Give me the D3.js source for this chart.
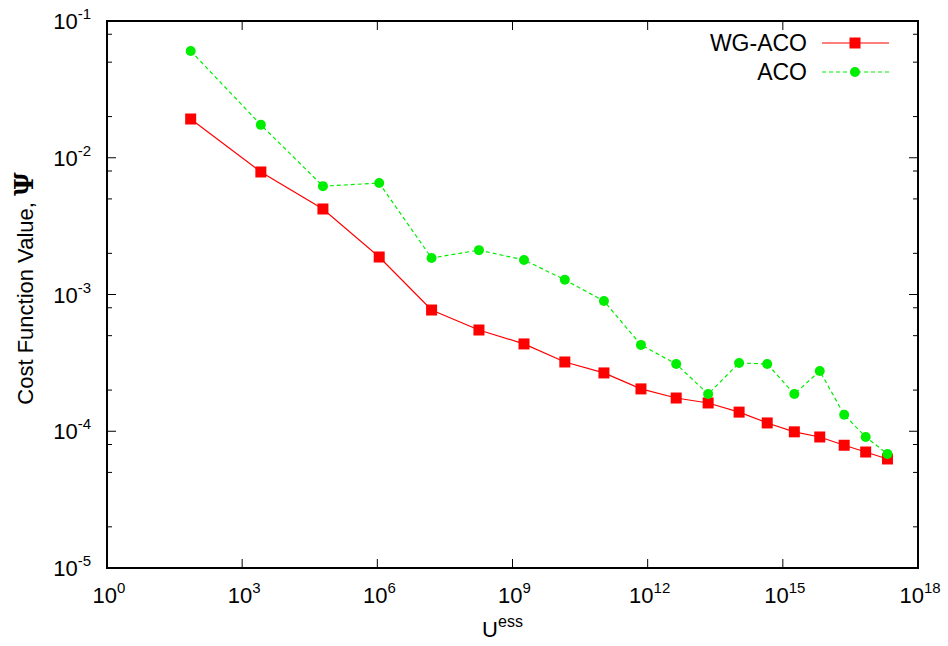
<!DOCTYPE html>
<html>
<head>
<meta charset="utf-8">
<script src="https://cdn.jsdelivr.net/npm/d3@7"></script>
<style>
  body { margin: 0; background: #fff; }
  svg text { font-family: "Liberation Sans", Arial, sans-serif; fill: #000; }
</style>
</head>
<body>
<svg width="948" height="646"></svg>
<script>
const svg    = d3.select("svg"),
      margin = {top: 21, right: 30, bottom: 78, left: 107},
      width  = 948 - margin.left - margin.right,
      height = 646 - margin.top - margin.bottom

// data
const uess   = [72, 2.6e3, 6.2e4, 1.1e6, 1.6e7, 1.8e8, 1.8e9, 1.45e10, 1.07e11, 7.1e11,
                4.3e12, 2.2e13, 1.07e14, 4.5e14, 1.8e15, 6.6e15, 2.3e16, 6.9e16, 2.1e17]
const wgaco  = [0.0192, 0.00787, 0.00422, 0.00188, 7.7e-4, 5.5e-4, 4.35e-4, 3.21e-4, 2.67e-4, 2.04e-4,
                1.75e-4, 1.61e-4, 1.38e-4, 1.15e-4, 9.9e-5, 9.08e-5, 7.9e-5, 7.05e-5, 6.27e-5]
const aco    = [0.0604, 0.0174, 0.0062, 0.00653, 0.00185, 0.00211, 0.00179, 0.00128, 8.96e-4, 4.28e-4,
                3.1e-4, 1.87e-4, 3.16e-4, 3.1e-4, 1.87e-4, 2.76e-4, 1.32e-4, 9.08e-5, 6.82e-5]
const xExps  = [0, 3, 6, 9, 12, 15, 18]
const yExps  = [-5, -4, -3, -2, -1]
const yMinor = [2, 5, 8]

const x = d3.scaleLog().domain([1, 1e18]).range([0, width]),
      y = d3.scaleLog().domain([1e-5, 1e-1]).range([height, 0])

const g = svg.append("g").attr("transform", `translate(${margin.left},${margin.top})`)

// ticks (inward, mirrored on all sides)
const major = 9, minor = 5
xExps.forEach(e => {
  const px = x(Math.pow(10, e))
  g.append("line").attr("x1", px).attr("x2", px).attr("y1", height).attr("y2", height - major)
    .style("stroke", "#000")
  g.append("line").attr("x1", px).attr("x2", px).attr("y1", 0).attr("y2", major)
    .style("stroke", "#000")
  const t = g.append("text").attr("x", px + 2).attr("y", height + 35)
    .style("font-size", "22px").style("text-anchor", "middle")
  t.append("tspan").text("10")
  t.append("tspan").attr("dy", -10).style("font-size", "15px").text(e)
})

yExps.forEach(e => {
  const py = y(Math.pow(10, e))
  g.append("line").attr("x1", 0).attr("x2", major).attr("y1", py).attr("y2", py).style("stroke", "#000")
  g.append("line").attr("x1", width).attr("x2", width - major).attr("y1", py).attr("y2", py).style("stroke", "#000")
  const t = g.append("text").attr("x", -16).attr("y", py + 8)
    .style("font-size", "22px").style("text-anchor", "end")
  t.append("tspan").text("10")
  t.append("tspan").attr("dy", -10).style("font-size", "15px").text(e)
  if (e < -1) {
    yMinor.forEach(m => {
      const my = y(m * Math.pow(10, e))
      g.append("line").attr("x1", 0).attr("x2", minor).attr("y1", my).attr("y2", my).style("stroke", "#000")
      g.append("line").attr("x1", width).attr("x2", width - minor).attr("y1", my).attr("y2", my).style("stroke", "#000")
    })
  }
})

// frame
g.append("rect").attr("width", width).attr("height", height)
  .style("fill", "none").style("stroke", "#000").style("stroke-width", 2)

// axis titles
const xt = g.append("text").attr("x", width / 2 - 10).attr("y", height + 69)
  .style("font-size", "22px").style("text-anchor", "middle")
xt.append("tspan").text("U")
xt.append("tspan").attr("dy", -10).style("font-size", "16px").text("ess")

const yt = svg.append("text")
  .attr("transform", `translate(33,${margin.top + height / 2 - 6}) rotate(-90)`)
  .style("font-size", "22px").style("text-anchor", "middle")
yt.append("tspan").text("Cost Function Value, ")
yt.append("tspan").style("font-family", "DejaVu Serif, serif").style("font-size", "26px")
  .style("font-weight", "bold").text("Ψ")

// series
const series = [
  {name: "WG-ACO", vals: wgaco, color: "#ff0000", dash: null, shape: "square"},
  {name: "ACO",    vals: aco,   color: "#00ee00", dash: "4,3", shape: "circle"}
]

const line = d3.line().x(d => x(d[0])).y(d => y(d[1]))

series.forEach((s, i) => {
  const pts = uess.map((u, j) => [u, s.vals[j]])
  g.append("path").datum(pts).attr("d", line)
    .style("fill", "none").style("stroke", s.color).style("stroke-width", 1.2)
    .style("stroke-dasharray", s.dash)
  drawMarkers(g, pts.map(p => [x(p[0]), y(p[1])]), s)

  // legend
  const ly = 22 + 29 * i
  g.append("text").attr("x", 700).attr("y", ly + 8)
    .style("font-size", "23px").style("text-anchor", "end").text(s.name)
  g.append("line").attr("x1", 715).attr("x2", 782).attr("y1", ly).attr("y2", ly)
    .style("stroke", s.color).style("stroke-width", 1.2).style("stroke-dasharray", s.dash)
  drawMarkers(g, [[748, ly]], s)
})

function drawMarkers(sel, pts, s) {
  if (s.shape === "square") {
    sel.selectAll(null).data(pts).enter().append("rect")
      .attr("x", d => d[0] - 5.5).attr("y", d => d[1] - 5.5)
      .attr("width", 11).attr("height", 11).style("fill", s.color)
  } else {
    sel.selectAll(null).data(pts).enter().append("circle")
      .attr("cx", d => d[0]).attr("cy", d => d[1]).attr("r", 5).style("fill", s.color)
  }
}
</script>
</body>
</html>
